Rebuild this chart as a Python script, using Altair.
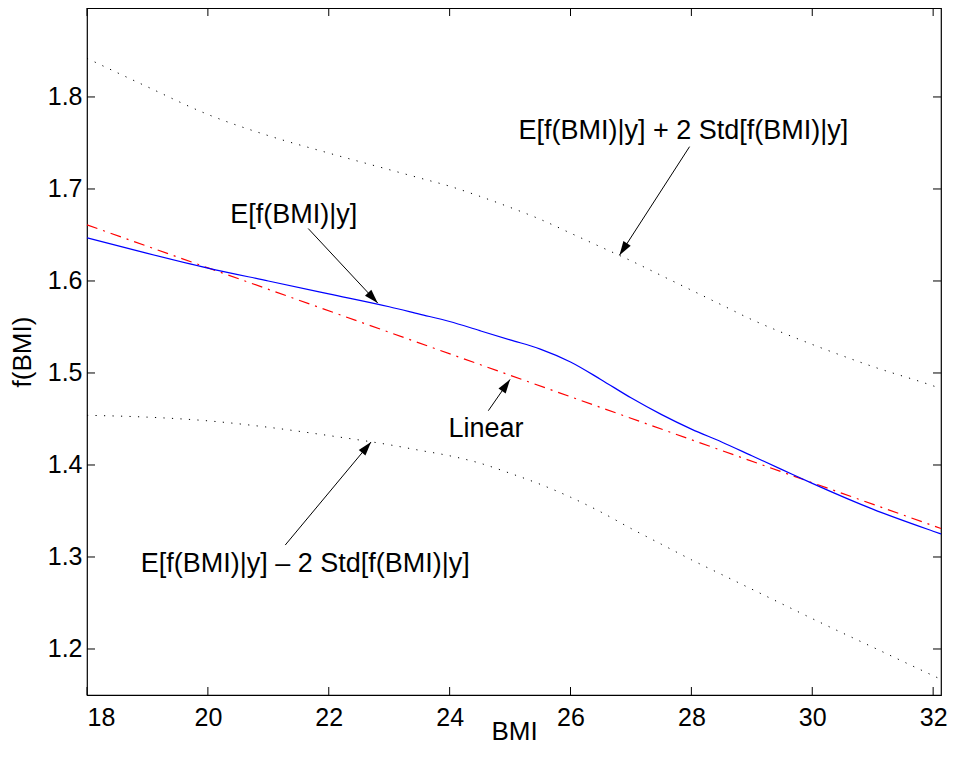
import math
import altair as alt
import pandas as pd

# ---------------- data ----------------
bmi = [18, 19, 20, 21, 22, 23, 23.5, 24, 24.5, 25, 25.5, 26, 26.5, 27, 27.5,
       28, 28.5, 29, 29.5, 30, 31, 32, 32.13]
posterior_mean = [1.647, 1.630, 1.614, 1.600, 1.586, 1.572, 1.564, 1.556, 1.546,
                  1.536, 1.526, 1.512, 1.493, 1.473, 1.455, 1.439, 1.425, 1.410,
                  1.395, 1.380, 1.352, 1.328, 1.325]
upper_band = [1.842, 1.811, 1.781, 1.758, 1.739, 1.721, 1.712, 1.703, 1.692,
              1.680, 1.667, 1.652, 1.637, 1.622, 1.606, 1.590, 1.574, 1.558,
              1.544, 1.531, 1.507, 1.486, 1.483]
lower_band = [1.454, 1.452, 1.448, 1.441, 1.432, 1.422, 1.416, 1.410, 1.402,
              1.391, 1.379, 1.365, 1.349, 1.331, 1.314, 1.297, 1.281, 1.265,
              1.249, 1.233, 1.202, 1.171, 1.167]
linear_bmi = [18, 32.13]
linear_fit = [1.661, 1.331]

x_ticks = [18, 20, 22, 24, 26, 28, 30, 32]
y_ticks = [1.2, 1.3, 1.4, 1.5, 1.6, 1.7, 1.8]

ann_text = ["E[f(BMI)|y] + 2 Std[f(BMI)|y]", "E[f(BMI)|y]", "Linear",
            "E[f(BMI)|y] \u2013 2 Std[f(BMI)|y]"]
ann_x = [25.14, 20.37, 23.98, 18.89]
ann_y = [1.754, 1.663, 1.430, 1.284]

arrow_from_x = [27.97, 21.66, 24.64, 21.28]
arrow_from_y = [1.746, 1.657, 1.459, 1.313]
arrow_to_x = [26.81, 22.81, 25.00, 22.70]
arrow_to_y = [1.628, 1.576, 1.493, 1.425]

# ---------------- layout ----------------
XMIN, XMAX = 18, 32.13
YMIN, YMAX = 1.15, 1.8967
W, H = 854, 687
FONT = "Liberation Sans"
HEAD_HALF = 7.0  # half length of the arrow head in px


def to_px(x, y):
    return ((x - XMIN) / (XMAX - XMIN) * W, (YMAX - y) / (YMAX - YMIN) * H)


def from_px(px, py):
    return (XMIN + px / W * (XMAX - XMIN), YMAX - py / H * (YMAX - YMIN))


head_x, head_y, head_ang = [], [], []
for x0, y0, x1, y1 in zip(arrow_from_x, arrow_from_y, arrow_to_x, arrow_to_y):
    p0 = to_px(x0, y0)
    p1 = to_px(x1, y1)
    dx, dy = p1[0] - p0[0], p1[1] - p0[1]
    L = math.hypot(dx, dy)
    ux, uy = dx / L, dy / L
    cx, cy = from_px(p1[0] - HEAD_HALF * ux, p1[1] - HEAD_HALF * uy)
    head_x.append(cx)
    head_y.append(cy)
    head_ang.append(math.degrees(math.atan2(dx, -dy)) % 360)

xs = alt.Scale(domain=[XMIN, XMAX], nice=False, zero=False)
ys = alt.Scale(domain=[YMIN, YMAX], nice=False, zero=False)
xaxis = alt.Axis(values=x_ticks, format="d", labelPadding=10,
                 titleY=44, titleBaseline="alphabetic")
yaxis = alt.Axis(values=y_ticks, format=".1f", labelPadding=5, titlePadding=12)


def X(field):
    return alt.X(field, type="quantitative", scale=xs, axis=xaxis, title="BMI")


def Y(field):
    return alt.Y(field, type="quantitative", scale=ys, axis=yaxis, title="f(BMI)")


band_df = pd.DataFrame({
    "bmi": bmi * 2,
    "f": upper_band + lower_band,
    "series": ["upper"] * len(bmi) + ["lower"] * len(bmi),
})
mean_df = pd.DataFrame({"bmi": bmi, "f": posterior_mean})
lin_df = pd.DataFrame({"bmi": linear_bmi, "f": linear_fit})
ann_df = pd.DataFrame({"x": ann_x, "y": ann_y, "label": ann_text})
arrow_df = pd.DataFrame({"x0": arrow_from_x, "y0": arrow_from_y,
                         "x1": arrow_to_x, "y1": arrow_to_y})
head_df = pd.DataFrame({"x": head_x, "y": head_y, "ang": head_ang})
xt_df = pd.DataFrame({"t": x_ticks})
yt_df = pd.DataFrame({"t": y_ticks})

bands = alt.Chart(band_df).mark_line(
    color="black", strokeWidth=1, strokeDash=[1.2, 7.3], strokeCap="butt",
    interpolate="monotone"
).encode(x=X("bmi"), y=Y("f"), detail="series:N")

mean_line = alt.Chart(mean_df).mark_line(
    color="#0000ff", strokeWidth=1.2, interpolate="monotone"
).encode(x=X("bmi"), y=Y("f"))

lin_line = alt.Chart(lin_df).mark_line(
    color="#ff0000", strokeWidth=1.2, strokeDash=[11, 6, 2, 6]
).encode(x=X("bmi"), y=Y("f"))

arrows = alt.Chart(arrow_df).mark_rule(color="black", strokeWidth=1).encode(
    x=X("x0"), y=Y("y0"), x2="x1", y2="y1")

heads = alt.Chart(head_df).mark_point(
    shape="M0,-1L0.62,1L-0.62,1Z", filled=True, color="black", opacity=1,
    size=196, strokeWidth=0
).encode(x=X("x"), y=Y("y"), angle=alt.Angle("ang:Q", scale=None))

labels = alt.Chart(ann_df).mark_text(
    align="left", baseline="alphabetic", font=FONT, fontSize=27, color="black"
).encode(x=X("x"), y=Y("y"), text="label:N")

TL = 8
xt_bottom = alt.Chart(xt_df).mark_rule(color="black", strokeWidth=1).encode(
    x=X("t"), y=alt.value(H), y2=alt.value(H - TL))
xt_top = alt.Chart(xt_df).mark_rule(color="black", strokeWidth=1).encode(
    x=X("t"), y=alt.value(0), y2=alt.value(TL))
yt_left = alt.Chart(yt_df).mark_rule(color="black", strokeWidth=1).encode(
    y=Y("t"), x=alt.value(0), x2=alt.value(TL))
yt_right = alt.Chart(yt_df).mark_rule(color="black", strokeWidth=1).encode(
    y=Y("t"), x=alt.value(W), x2=alt.value(W - TL))

chart = alt.layer(
    bands, lin_line, mean_line, arrows, heads, labels,
    xt_bottom, xt_top, yt_left, yt_right
).properties(
    width=W, height=H,
    autosize=alt.AutoSizeParams(type="none"),
    padding={"left": 79, "top": 0, "right": 7, "bottom": 50},
    background="white",
).configure_axis(
    grid=False, ticks=False, domain=False,
    labelFont=FONT, labelFontSize=25, labelColor="black",
    titleFont=FONT, titleFontSize=26, titleFontWeight="normal", titleColor="black",
).configure_view(stroke="black", strokeWidth=1.2)

chart.save("out.html", embed_options={"renderer": "svg", "actions": False})
